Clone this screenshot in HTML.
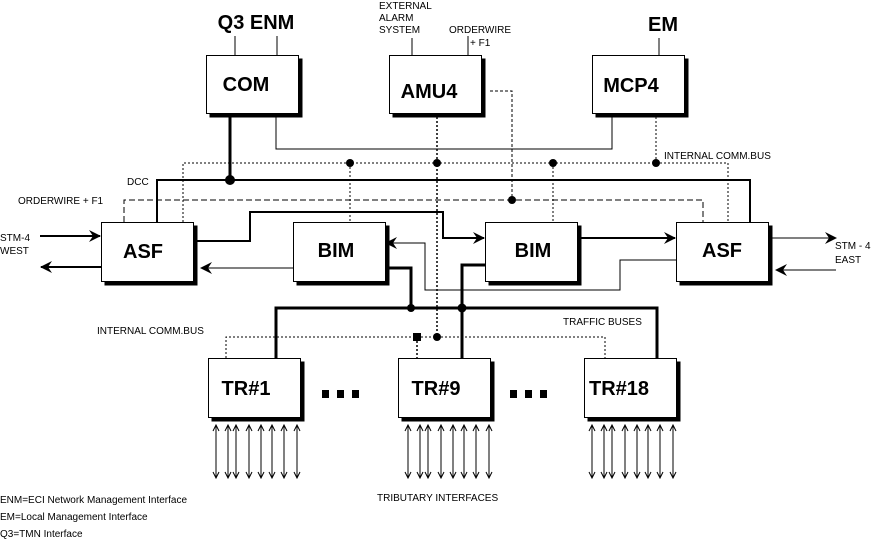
<!DOCTYPE html>
<html><head><style>
html,body{margin:0;padding:0;background:#fff;}
svg{display:block;}
text{font-family:"Liberation Sans",sans-serif;fill:#000;}
.b{font-weight:bold;font-size:20px;}
.s{font-size:10px;}
</style></head><body>
<svg width="875" height="539" viewBox="0 0 875 539" xmlns="http://www.w3.org/2000/svg">
<defs>
<marker id="ah" markerWidth="12" markerHeight="12" refX="11" refY="6" orient="auto" markerUnits="userSpaceOnUse">
<path d="M0,0 L12,6 L0,12 L4,6 Z" fill="#000"/></marker>
<g id="ta" fill="none" stroke="#000">
<path d="M0,425 V478 M-3,431 L0,425 L3,431 M-3,472 L0,478 L3,472"/>
</g>
</defs>
<g fill="none" stroke="#000">
<line x1="235" y1="36" x2="235" y2="55"/>
<line x1="277" y1="36" x2="277" y2="55"/>
<line x1="412" y1="38" x2="412" y2="55"/>
<line x1="468" y1="36" x2="468" y2="55"/>
<line x1="659" y1="38" x2="659" y2="55"/>
<polyline points="276,117 276,149 612,149 612,117"/>
<line x1="230" y1="117" x2="230" y2="180" stroke-width="3"/>
<polyline points="183,222 183,163 728,163 728,222" stroke-dasharray="2,2"/>
<line x1="350" y1="163" x2="350" y2="222" stroke-dasharray="2,2"/>
<line x1="553" y1="163" x2="553" y2="222" stroke-dasharray="2,2"/>
<line x1="656" y1="117" x2="656" y2="163" stroke-dasharray="2,2"/>
<line x1="437" y1="117" x2="437" y2="337" stroke-dasharray="2,2" stroke-width="1.5"/>
<polyline points="157,222 157,180 750,180 750,222" stroke-width="2"/>
<polyline points="124,222 124,200 703,200 703,222" stroke-dasharray="6,3"/>
<polyline points="490,91 512,91 512,200" stroke-dasharray="3,2"/>
<polyline points="197,241 250,241 250,212 443,212 443,238 484,238" stroke-width="2" marker-end="url(#ah)"/>
<line x1="581" y1="238" x2="675" y2="238" stroke-width="2" marker-end="url(#ah)"/>
<polyline points="676,260 620,260 620,290 425,290 425,243 386,243" marker-end="url(#ah)"/>
<line x1="293" y1="268" x2="201" y2="268" marker-end="url(#ah)"/>
<line x1="40" y1="236" x2="100" y2="236" stroke-width="2" marker-end="url(#ah)"/>
<line x1="101" y1="267" x2="41" y2="267" stroke-width="2" marker-end="url(#ah)"/>
<line x1="772" y1="238" x2="836" y2="238" marker-end="url(#ah)"/>
<line x1="836" y1="270" x2="776" y2="270" marker-end="url(#ah)"/>
<polyline points="389,268 411,268 411,308" stroke-width="3"/>
<polyline points="485,265 462,265 462,358" stroke-width="3"/>
<polyline points="276,358 276,308 657,308 657,358" stroke-width="3"/>
<polyline points="226,358 226,337 605,337 605,358" stroke-dasharray="2,2"/>
<line x1="417" y1="337" x2="417" y2="358" stroke-dasharray="2,2" stroke-width="1.5"/>
</g>
<g fill="#000">
<circle cx="230" cy="180" r="5"/>
<circle cx="350" cy="163" r="4"/>
<circle cx="437" cy="163" r="4"/>
<circle cx="553" cy="163" r="4"/>
<circle cx="656" cy="163" r="4"/>
<circle cx="512" cy="200" r="4"/>
<circle cx="411" cy="308" r="4"/>
<circle cx="462" cy="308" r="4.5"/>
<rect x="413" y="333" width="8" height="8"/>
<circle cx="437" cy="337" r="4"/>
</g>
<g stroke="#000" fill="#fff">
<g><rect x="210" y="59" width="92" height="58" fill="#000"/><rect x="206.5" y="55.5" width="92" height="58"/></g>
<g><rect x="393" y="59" width="92" height="58" fill="#000"/><rect x="389.5" y="55.5" width="92" height="58"/></g>
<g><rect x="596" y="59" width="92" height="58" fill="#000"/><rect x="592.5" y="55.5" width="92" height="58"/></g>
<g><rect x="105" y="226" width="92" height="59" fill="#000"/><rect x="101.5" y="222.5" width="92" height="59"/></g>
<g><rect x="297" y="226" width="92" height="59" fill="#000"/><rect x="293.5" y="222.5" width="92" height="59"/></g>
<g><rect x="489" y="226" width="92" height="59" fill="#000"/><rect x="485.5" y="222.5" width="92" height="59"/></g>
<g><rect x="680" y="226" width="92" height="59" fill="#000"/><rect x="676.5" y="222.5" width="92" height="59"/></g>
<g><rect x="212" y="362" width="92" height="59" fill="#000"/><rect x="208.5" y="358.5" width="92" height="59"/></g>
<g><rect x="402" y="362" width="92" height="59" fill="#000"/><rect x="398.5" y="358.5" width="92" height="59"/></g>
<g><rect x="588" y="362" width="92" height="59" fill="#000"/><rect x="584.5" y="358.5" width="92" height="59"/></g>
</g>
<g class="b" text-anchor="middle">
<text x="246" y="91">COM</text>
<text x="429" y="98">AMU4</text>
<text x="631" y="92">MCP4</text>
<text x="143" y="258">ASF</text>
<text x="336" y="257">BIM</text>
<text x="533" y="257">BIM</text>
<text x="722" y="257">ASF</text>
<text x="246" y="395">TR#1</text>
<text x="436" y="395">TR#9</text>
<text x="619" y="395">TR#18</text>
<text x="256" y="29">Q3  ENM</text>
<text x="663" y="31">EM</text>
</g>
<g fill="#000">
<rect x="322" y="390" width="7" height="8"/><rect x="337" y="390" width="7" height="8"/><rect x="352" y="390" width="7" height="8"/>
<rect x="510" y="390" width="7" height="8"/><rect x="525" y="390" width="7" height="8"/><rect x="540" y="390" width="7" height="8"/>
</g>
<g class="s">
<text x="379" y="9">EXTERNAL</text>
<text x="379" y="21">ALARM</text>
<text x="379" y="33">SYSTEM</text>
<text x="449" y="33">ORDERWIRE</text>
<text x="470" y="46">+ F1</text>
<text x="664" y="159">INTERNAL COMM.BUS</text>
<text x="127" y="185">DCC</text>
<text x="18" y="204">ORDERWIRE + F1</text>
<text x="0" y="241">STM-4</text>
<text x="0" y="254">WEST</text>
<text x="835" y="249">STM - 4</text>
<text x="835" y="263">EAST</text>
<text x="97" y="334">INTERNAL COMM.BUS</text>
<text x="563" y="325">TRAFFIC BUSES</text>
<text x="377" y="501">TRIBUTARY INTERFACES</text>
<text x="0" y="503">ENM=ECI Network Management Interface</text>
<text x="0" y="520">EM=Local Management Interface</text>
<text x="0" y="537">Q3=TMN Interface</text>
</g>
<use href="#ta" x="216"/><use href="#ta" x="228"/><use href="#ta" x="236"/><use href="#ta" x="249"/>
<use href="#ta" x="261"/><use href="#ta" x="272"/><use href="#ta" x="284"/><use href="#ta" x="297"/>
<use href="#ta" x="408"/><use href="#ta" x="420"/><use href="#ta" x="428"/><use href="#ta" x="441"/>
<use href="#ta" x="453"/><use href="#ta" x="464"/><use href="#ta" x="476"/><use href="#ta" x="489"/>
<use href="#ta" x="592"/><use href="#ta" x="604"/><use href="#ta" x="612"/><use href="#ta" x="625"/>
<use href="#ta" x="637"/><use href="#ta" x="648"/><use href="#ta" x="660"/><use href="#ta" x="673"/>
</svg>
</body></html>
